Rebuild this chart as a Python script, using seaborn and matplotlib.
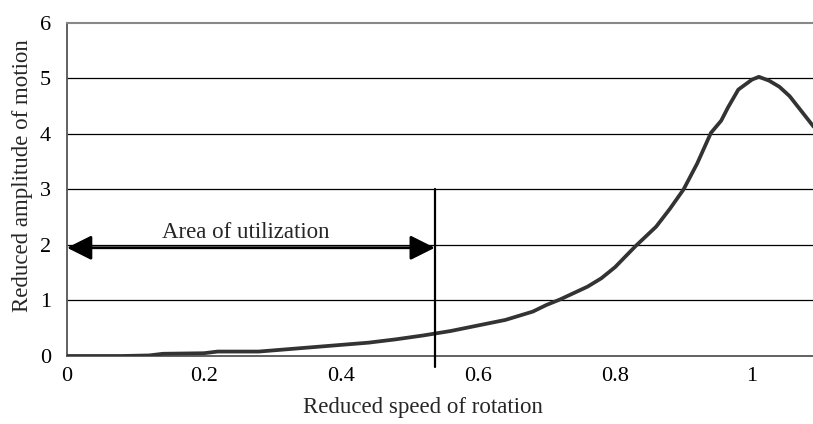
import matplotlib
matplotlib.use("Agg")
import matplotlib.pyplot as plt
import seaborn as sns
import pandas as pd
from matplotlib.patches import FancyArrowPatch

speed = [0, 0.04, 0.08, 0.12, 0.14, 0.20, 0.22, 0.28, 0.32, 0.36, 0.40, 0.44,
         0.48, 0.52, 0.54, 0.56, 0.60, 0.64, 0.68, 0.70, 0.72, 0.76, 0.78, 0.80,
         0.83, 0.86, 0.88, 0.90, 0.92, 0.94, 0.955, 0.965, 0.98, 1.0, 1.01,
         1.025, 1.04, 1.055, 1.09]
amplitude = [0, 0, 0, 0.01, 0.04, 0.05, 0.08, 0.08, 0.12, 0.16, 0.20, 0.24,
             0.30, 0.37, 0.41, 0.45, 0.55, 0.65, 0.80, 0.92, 1.02, 1.25, 1.40,
             1.60, 1.98, 2.33, 2.65, 3.0, 3.47, 4.02, 4.24, 4.48, 4.80, 4.98,
             5.03, 4.96, 4.85, 4.68, 4.13]
x_ticks = [0, 0.2, 0.4, 0.6, 0.8, 1]
x_tick_labels = ["0", "0.2", "0.4", "0.6", "0.8", "1"]
y_ticks = [0, 1, 2, 3, 4, 5, 6]
utilization_limit = 0.537
annotation_text = "Area of utilization"

sns.set_style("white")
plt.rcParams['font.family'] = ['Liberation Serif', 'DejaVu Serif']

df = pd.DataFrame({"speed": speed, "amplitude": amplitude})

fig = plt.figure(figsize=(8.13, 4.24), dpi=100)
ax = fig.add_axes([0.0824, 0.1604, 0.9176, 0.7854])

for yv in y_ticks[1:-1]:
    ax.axhline(yv, color="black", lw=0.9, zorder=1)

sns.lineplot(data=df, x="speed", y="amplitude", ax=ax, color="#333333",
             lw=2.7, zorder=3)

ax.set_xlim(0, 1.089)
ax.set_ylim(0, 6)
ax.set_xticks(x_ticks)
ax.set_xticklabels(x_tick_labels)
ax.set_yticks(y_ticks)

ax.spines["right"].set_visible(False)
ax.spines["top"].set_color("#888888")
ax.spines["top"].set_linewidth(1.5)
ax.spines["left"].set_color("#555555")
ax.spines["left"].set_linewidth(1.3)
ax.spines["bottom"].set_color("#555555")
ax.spines["bottom"].set_linewidth(1.3)

ax.tick_params(axis="both", which="both", direction="out", width=1,
               color="#666666", labelsize=16, labelcolor="black")
ax.tick_params(axis="x", length=4.5, pad=3.5)
ax.tick_params(axis="y", length=6, pad=5.5)

ax.set_xlabel("Reduced speed of rotation", fontsize=16.5)
ax.set_ylabel("Reduced amplitude of motion", fontsize=16.5)
ax.xaxis.set_label_coords(0.4766, -0.122)
ax.yaxis.set_label_coords(-0.0456, 0.542)

ax.plot([utilization_limit, utilization_limit], [-0.2, 3.0], color="black",
        lw=1.6, clip_on=False, zorder=4)

arrow = FancyArrowPatch((0.0, 1.95), (utilization_limit, 1.95),
                        arrowstyle="<|-|>,head_length=15,head_width=7.5",
                        color="black", lw=2, mutation_scale=1, zorder=5,
                        shrinkA=0, shrinkB=0)
ax.add_patch(arrow)
ax.text(0.261, 2.13, annotation_text, ha="center", va="baseline",
        fontsize=16.5)

fig.savefig("out.png", dpi=100)
